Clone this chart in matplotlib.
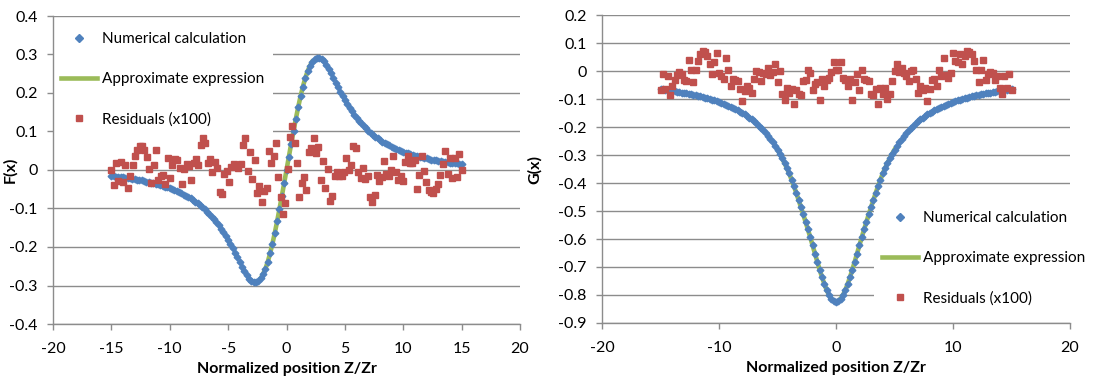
import numpy as np
import matplotlib
matplotlib.use('Agg')
import matplotlib.pyplot as plt

plt.rcParams['font.family'] = ['Lato', 'DejaVu Sans']
plt.rcParams['axes.unicode_minus'] = False

# ---- data ----
x_grid = np.linspace(-15, 15, 151)  # Z/Zr, step 0.2

F_num = [
    -0.015, -0.016, -0.017, -0.018, -0.018, -0.019, -0.020, -0.021, -0.022, -0.023,
    -0.024, -0.025, -0.026, -0.027, -0.029, -0.030, -0.031, -0.033, -0.034, -0.036,
    -0.037, -0.039, -0.041, -0.043, -0.045, -0.048, -0.050, -0.052, -0.055, -0.058,
    -0.061, -0.064, -0.067, -0.070, -0.074, -0.078, -0.082, -0.087, -0.092, -0.097,
    -0.102, -0.108, -0.114, -0.121, -0.128, -0.135, -0.143, -0.152, -0.161, -0.171,
    -0.181, -0.192, -0.203, -0.215, -0.227, -0.239, -0.251, -0.263, -0.274, -0.283,
    -0.289, -0.292, -0.291, -0.288, -0.281, -0.270, -0.256, -0.238, -0.216, -0.191,
    -0.163, -0.133, -0.101, -0.068, -0.034, 0.000,
    0.034, 0.068, 0.101, 0.133, 0.163, 0.191, 0.216, 0.238, 0.256, 0.270,
    0.281, 0.288, 0.291, 0.292, 0.289, 0.283, 0.274, 0.263, 0.251, 0.239,
    0.227, 0.215, 0.203, 0.192, 0.181, 0.171, 0.161, 0.152, 0.143, 0.135,
    0.128, 0.121, 0.114, 0.108, 0.102, 0.097, 0.092, 0.087, 0.082, 0.078,
    0.074, 0.070, 0.067, 0.064, 0.061, 0.058, 0.055, 0.052, 0.050, 0.048,
    0.045, 0.043, 0.041, 0.039, 0.037, 0.036, 0.034, 0.033, 0.031, 0.030,
    0.029, 0.027, 0.026, 0.025, 0.024, 0.023, 0.022, 0.021, 0.020, 0.019,
    0.018, 0.018, 0.017, 0.016, 0.015,
]

F_resid = [
    0.000, -0.040, 0.017, -0.029, 0.022, -0.030, 0.014, -0.048, -0.015, 0.014,
    0.037, 0.053, 0.062, 0.062, 0.051, 0.033, 0.003, -0.034, 0.014, 0.051,
    -0.026, -0.015, -0.013, -0.036, 0.030, -0.020, 0.014, 0.029, 0.027, 0.006,
    -0.036, 0.003, 0.016, 0.010, -0.025, 0.017, 0.029, 0.014, 0.066, 0.082,
    0.069, 0.017, 0.028, -0.006, 0.022, 0.004, -0.056, -0.062, -0.010, -0.003,
    -0.031, 0.008, 0.016, 0.011, 0.006, 0.016, 0.066, 0.082, -0.002, 0.048,
    -0.023, 0.025, -0.061, -0.042, -0.082, -0.055, -0.046, 0.050, 0.018, 0.036,
    0.069, -0.019, -0.069, -0.114, -0.085, 0.002, 0.086, 0.115, 0.069, 0.019,
    -0.069, -0.035, -0.017, -0.051, 0.046, 0.057, 0.082, 0.044, 0.061, -0.025,
    0.024, -0.048, 0.003, -0.081, -0.067, -0.015, -0.004, -0.015, -0.015, -0.005,
    0.032, 0.001, 0.012, 0.063, 0.058, -0.004, -0.020, 0.006, -0.023, -0.016,
    -0.069, -0.082, -0.065, -0.013, -0.028, -0.017, 0.023, -0.010, -0.015, -0.001,
    0.036, -0.004, -0.027, -0.015, -0.029, 0.020, 0.037, 0.018, 0.018, 0.025,
    -0.050, -0.013, 0.037, -0.003, -0.032, -0.051, -0.058, -0.060, -0.050, -0.036,
    -0.013, 0.016, 0.050, -0.011, 0.030, -0.022, 0.030, -0.017, 0.041, 0.001,
]

G_num = [
    -0.065, -0.066, -0.067, -0.068, -0.070, -0.071, -0.072, -0.074, -0.075, -0.077,
    -0.078, -0.080, -0.081, -0.083, -0.085, -0.087, -0.089, -0.091, -0.093, -0.095,
    -0.097, -0.099, -0.102, -0.105, -0.108, -0.111, -0.114, -0.117, -0.120, -0.124,
    -0.128, -0.132, -0.136, -0.140, -0.145, -0.150, -0.155, -0.161, -0.167, -0.173,
    -0.180, -0.187, -0.195, -0.203, -0.212, -0.222, -0.232, -0.243, -0.255, -0.268,
    -0.281, -0.296, -0.312, -0.329, -0.347, -0.366, -0.388, -0.411, -0.435, -0.460,
    -0.486, -0.512, -0.539, -0.566, -0.594, -0.623, -0.652, -0.681, -0.709, -0.736,
    -0.760, -0.782, -0.800, -0.813, -0.822, -0.825,
    -0.822, -0.813, -0.800, -0.782, -0.760, -0.736, -0.709, -0.681, -0.652, -0.623,
    -0.594, -0.566, -0.539, -0.512, -0.486, -0.460, -0.435, -0.411, -0.388, -0.366,
    -0.347, -0.329, -0.312, -0.296, -0.281, -0.268, -0.255, -0.243, -0.232, -0.222,
    -0.212, -0.203, -0.195, -0.187, -0.180, -0.173, -0.167, -0.161, -0.155, -0.150,
    -0.145, -0.140, -0.136, -0.132, -0.128, -0.124, -0.120, -0.117, -0.114, -0.111,
    -0.108, -0.105, -0.102, -0.099, -0.097, -0.095, -0.093, -0.091, -0.089, -0.087,
    -0.085, -0.083, -0.081, -0.080, -0.078, -0.077, -0.075, -0.074, -0.072, -0.071,
    -0.070, -0.068, -0.067, -0.066, -0.065,
]

G_resid = [
    -0.067, -0.012, -0.064, -0.019, -0.085, -0.055, -0.031, -0.015, -0.004, -0.012,
    -0.031, -0.036, 0.040, 0.002, -0.040, 0.002, 0.036, 0.060, 0.071, 0.068,
    0.052, 0.026, -0.012, 0.032, 0.065, -0.007, -0.019, -0.027, 0.048, 0.002,
    -0.055, -0.027, -0.033, -0.037, -0.063, -0.107, -0.071, -0.055, -0.060, -0.079,
    -0.027, 0.000, -0.005, -0.036, -0.007, -0.012, 0.012, -0.015, -0.004, 0.026,
    -0.039, 0.000, -0.083, -0.102, -0.060, -0.079, -0.063, -0.119, -0.067, -0.083,
    -0.087, -0.036, -0.033, 0.005, -0.007, -0.069, -0.045, -0.039, -0.105, -0.027,
    -0.055, -0.031, -0.024, -0.004, 0.032, 0.002,
    0.002, 0.032, -0.024, -0.031, -0.055, -0.027, -0.105, -0.039, -0.012, -0.069,
    0.005, -0.027, -0.033, -0.036, -0.081, -0.087, -0.063, -0.119, -0.060, -0.083,
    -0.060, -0.099, -0.083, -0.036, 0.000, 0.026, -0.004, 0.012, -0.007, -0.019,
    -0.036, 0.000, 0.002, -0.027, -0.079, -0.055, -0.069, -0.060, -0.107, -0.063,
    -0.033, -0.027, -0.055, 0.002, -0.019, 0.048, -0.015, -0.024, -0.007, 0.065,
    0.036, 0.032, 0.060, 0.026, 0.052, 0.071, 0.068, 0.060, 0.036, 0.002,
    -0.039, 0.002, 0.040, -0.031, -0.012, -0.004, -0.007, -0.031, -0.019, -0.060,
    -0.083, -0.019, -0.060, -0.012, -0.067,
]

F_approx_range = (-2.2, 2.2)
G_approx_range = (-5.0, 5.0)

F_xticks = [-20, -15, -10, -5, 0, 5, 10, 15, 20]
G_xticks = [-20, -10, 0, 10, 20]
F_yticks = [-0.4, -0.3, -0.2, -0.1, 0, 0.1, 0.2, 0.3, 0.4]
G_yticks = [-0.9, -0.8, -0.7, -0.6, -0.5, -0.4, -0.3, -0.2, -0.1, 0, 0.1, 0.2]

BLUE = '#4F81BD'
GREEN = '#9BBB59'
RED = '#C0504D'
GRID = '#8C8C8C'
W, H = 1101, 378


def style_axes(ax, xticks, yticks, ylabel, ylab_x):
    ax.set_xlim(-20, 20)
    ax.set_ylim(yticks[0], yticks[-1])
    ax.set_xticks(xticks)
    ax.set_yticks(yticks)
    ax.set_yticklabels(['%g' % v for v in yticks])
    ax.grid(axis='y', color=GRID, lw=1.0)
    ax.set_axisbelow(True)
    for s in ['top', 'right']:
        ax.spines[s].set_visible(False)
    for s in ['left', 'bottom']:
        ax.spines[s].set_color(GRID)
        ax.spines[s].set_linewidth(1.0)
    ax.tick_params(axis='both', colors=GRID, labelcolor='black', labelsize=11.5,
                   length=4, width=1)
    ax.tick_params(axis='x', pad=9)
    ax.tick_params(axis='y', pad=7)
    ax.set_xlabel('Normalized position Z/Zr', fontsize=11.5, fontweight='bold', labelpad=4)
    ax.set_ylabel(ylabel, fontsize=11.5, fontweight='bold')
    ax.yaxis.set_label_coords(ylab_x, 0.5)


def draw_panel(ax, y_num, y_res, approx_range):
    xs = np.asarray(x_grid)
    yn = np.asarray(y_num)
    m = (xs >= approx_range[0] - 1e-9) & (xs <= approx_range[1] + 1e-9)
    ax.plot(xs[m], yn[m], color=GREEN, lw=3.3, zorder=2, label='Approximate expression')
    ax.plot(xs, yn, ls='none', marker='D', ms=3.4, color=BLUE, mec=BLUE, zorder=3,
            label='Numerical calculation')
    xr = np.linspace(-15, 15, len(y_res))
    ax.plot(xr, y_res, ls='none', marker='s', ms=3.7, color=RED, mec=RED, zorder=4,
            label='Residuals (x100)')


fig = plt.figure(figsize=(W / 100, H / 100), dpi=100)
ax1 = fig.add_axes([53 / W, 1 - 324 / H, 467 / W, 308 / H])
ax2 = fig.add_axes([602 / W, 1 - 323 / H, 468 / W, 308 / H])

draw_panel(ax1, F_num, F_resid, F_approx_range)
style_axes(ax1, F_xticks, F_yticks, 'F(x)', -0.076)

draw_panel(ax2, G_num, G_resid, G_approx_range)
style_axes(ax2, G_xticks, G_yticks, 'G(x)', -0.128)

order = [1, 0, 2]
# legend boxes, top-left corner in figure pixels
for ax, corner in [(ax1, (53, 24)), (ax2, (874, 203))]:
    h, l = ax.get_legend_handles_labels()
    leg = ax.legend([h[i] for i in order], [l[i] for i in order], loc='upper left',
                    bbox_to_anchor=(corner[0] / W, 1 - corner[1] / H),
                    bbox_transform=fig.transFigure,
                    fontsize=11, frameon=True, facecolor='white', edgecolor='none',
                    framealpha=1.0, fancybox=False, handlelength=2.3,
                    handletextpad=0.35, labelspacing=1.7, borderpad=0.55,
                    borderaxespad=0.0, markerscale=1.25)
    leg.set_zorder(1.5)

fig.savefig('out.png', dpi=100)
